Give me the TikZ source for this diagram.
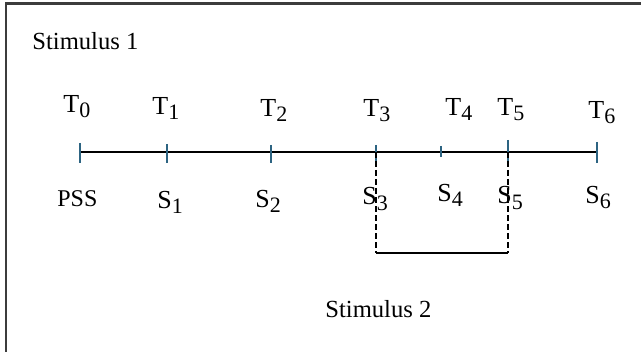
\documentclass[tikz,border=0pt]{standalone}
\usepackage{fontspec}
\setmainfont{Liberation Serif}
\usepackage{tikz}
\usetikzlibrary{positioning}
\definecolor{tickcolor}{RGB}{45,100,130}
\definecolor{framecolor}{RGB}{60,60,60}
\newcommand{\lowsub}[1]{\raisebox{-2.5pt}{\fontsize{11}{11}\selectfont #1}}

\begin{document}
\begin{tikzpicture}[
    x=0.5pt, y=-0.5pt,
    lbl/.style={anchor=base west, inner sep=0pt, font=\fontsize{13}{13}\selectfont},
    stim/.style={anchor=base west, inner sep=0pt, font=\fontsize{12.3}{13}\selectfont},
    tick/.style={tickcolor, line width=1.1pt},
]
    \useasboundingbox (0,0) rectangle (641,352);
    \draw[framecolor, line width=1.1pt] (6,352) -- (6,3.5) -- (641,3.5);
    \node[stim] (stim1) at (32,50) {Stimulus 1};
    % points on the time line
    \coordinate (p0) at (80,152);
    \coordinate (p1) at (167,152);
    \coordinate (p2) at (271,152);
    \coordinate (p3) at (376,152);
    \coordinate (p4) at (441,152);
    \coordinate (p5) at (508,152);
    \coordinate (p6) at (597,152);
    \coordinate (b3) at (376,253);
    \coordinate (b5) at (508,253);
    \draw[line width=1pt] (p0) -- (p6);
    \draw[tick] ([yshift=4.5pt]p0) -- ([yshift=-5.5pt]p0);
    \draw[tick] ([yshift=4pt]p1) -- ([yshift=-5.5pt]p1);
    \draw[tick] ([yshift=3.5pt]p2) -- ([yshift=-5.5pt]p2);
    \draw[tick] ([yshift=3.5pt]p3) -- ([yshift=-5pt]p3);
    \draw[tick] ([yshift=3pt]p4) -- ([yshift=-2.5pt]p4);
    \draw[tick] ([yshift=6pt]p5) -- ([yshift=-5pt]p5);
    \draw[tick] ([yshift=5pt]p6) -- ([yshift=-5.5pt]p6);
    % time labels
    \node[lbl] (t0) at (63,113) {T\lowsub{0}};
    \node[lbl] (t1) at (152,115) {T\lowsub{1}};
    \node[lbl] (t2) at (260,117) {T\lowsub{2}};
    \node[lbl] (t3) at (363,117) {T\lowsub{3}};
    \node[lbl] (t4) at (445,116) {T\lowsub{4}};
    \node[lbl] (t5) at (497,116) {T\lowsub{5}};
    \node[lbl] (t6) at (588,119) {T\lowsub{6}};
    % state labels
    \node[lbl, font=\fontsize{12}{12}\selectfont] (s0) at (57,206) {PSS};
    \node[lbl] (s1) at (157,208) {S\lowsub{1}};
    \node[lbl] (s2) at (255,207) {S\lowsub{2}};
    \node[lbl] (s3) at (362,205) {S\lowsub{3}};
    \node[lbl] (s4) at (437,201) {S\lowsub{4}};
    \node[lbl] (s5) at (497,204) {S\lowsub{5}};
    \node[lbl] (s6) at (585,203) {S\lowsub{6}};
    % second stimulus bracket
    \draw[line width=0.9pt, dash pattern=on 3pt off 1.5pt] (p3) -- (b3);
    \draw[line width=0.9pt, dash pattern=on 3pt off 1.5pt] (p5) -- (b5);
    \draw[line width=1pt] (b3) -- (b5);
    \node[stim] (stim2) at (325,317) {Stimulus 2};
\end{tikzpicture}
\end{document}
